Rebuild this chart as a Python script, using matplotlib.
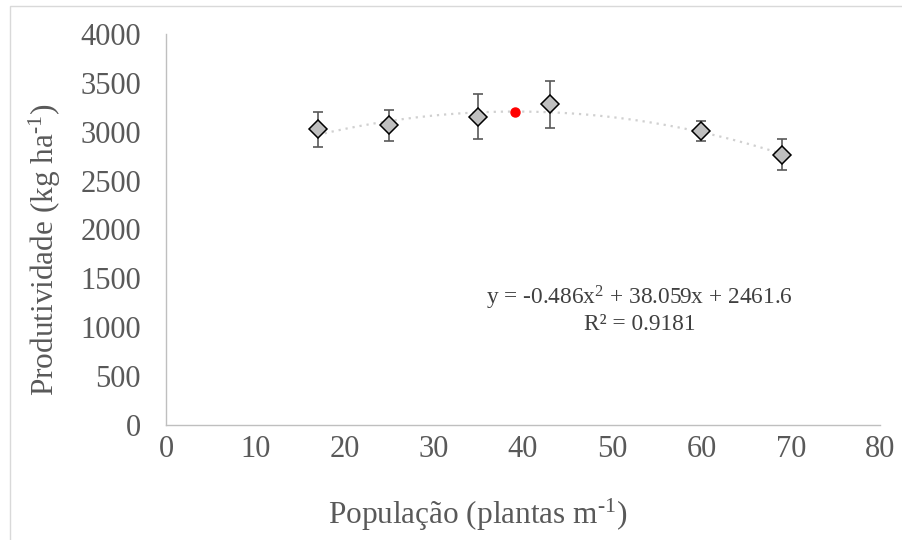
import numpy as np
import matplotlib.pyplot as plt
from matplotlib.patches import Rectangle

plt.rcParams['font.family'] = ['Liberation Serif', 'DejaVu Serif']
plt.rcParams['mathtext.fontset'] = 'custom'
plt.rcParams['mathtext.rm'] = 'Liberation Serif'

# data
populacao = [17, 25, 35, 43, 60, 69]
produtividade = [3025, 3065, 3155, 3280, 3010, 2765]
erro = [180, 160, 230, 240, 105, 157]

# trendline shown in the chart (Excel polynomial, order 2)
coef = [-0.486, 38.059, 2461.6]
r2 = 0.9181
x_max = -coef[1] / (2 * coef[0])
y_max = np.polyval(coef, x_max)

grey_txt = '#595959'

fig = plt.figure(figsize=(9.03, 5.4), dpi=100)
ax = fig.add_axes([166 / 903, 1 - 425 / 540, (880 - 166) / 903, (425 - 34) / 540])

# outer chart border
fig.patches.append(Rectangle((10 / 903, -0.1), 1.2, 1 - 6 / 540 + 0.1,
                             transform=fig.transFigure, fill=False,
                             edgecolor='#d9d9d9', lw=1))

xt = np.linspace(min(populacao), max(populacao), 200)
ax.plot(xt, np.polyval(coef, xt), color='#d0d0d0', lw=1.6,
        linestyle=(0, (1, 2.2)), zorder=2)

ax.errorbar(populacao, produtividade, yerr=erro, fmt='none',
            ecolor='#595959', elinewidth=1.2, capsize=3.5, capthick=1.2, zorder=3)
ax.plot(populacao, produtividade, linestyle='none', marker='D', ms=9.5,
        mfc='#bfbfbf', mec='black', mew=1.1, zorder=4)
ax.plot([x_max], [y_max], linestyle='none', marker='o', ms=6.5,
        mfc='red', mec='red', zorder=5)

ax.set_xlim(0, 80)
ax.set_ylim(0, 4000)
ax.set_xticks(range(0, 81, 10))
ax.set_yticks(range(0, 4001, 500))
ax.tick_params(length=0, labelsize=22, colors=grey_txt)
ax.tick_params(axis='y', pad=18)
ax.tick_params(axis='x', pad=7)
for s in ['top', 'right']:
    ax.spines[s].set_visible(False)
for s in ['left', 'bottom']:
    ax.spines[s].set_color('#bfbfbf')
    ax.spines[s].set_linewidth(1)

ax.text(53.1, 1300, r'y = -0.486x$\mathregular{^{2}}$ + 38.059x + 2461.6',
        ha='center', va='center', fontsize=16.8, color='#404040')
ax.text(53.1, 1030, f'R² = {r2}', ha='center', va='center',
        fontsize=16.8, color='#404040')

fig.text(478 / 903, 1 - 515 / 540, 'População (plantas m$\\mathregular{^{\u20101}}$)',
         ha='center', va='center', fontsize=22.5, color=grey_txt)
fig.text(45 / 903, 1 - 250 / 540, 'Produtividade (kg ha$\\mathregular{^{\u20101}}$)',
         ha='center', va='center', rotation=90, fontsize=22.5, color=grey_txt)

fig.savefig('out.png', dpi=100)
